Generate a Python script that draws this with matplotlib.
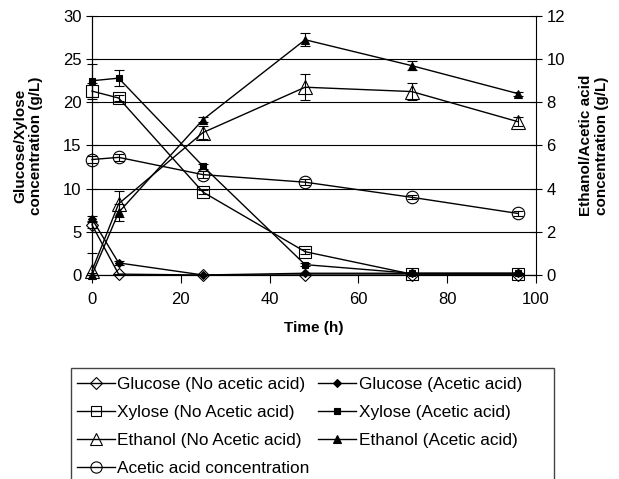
import matplotlib
matplotlib.use('Agg')
import matplotlib.pyplot as plt
from matplotlib.lines import Line2D
from matplotlib.patches import Rectangle
import numpy as np

plt.rcParams['font.family'] = ['Liberation Sans', 'DejaVu Sans']
plt.rcParams['font.size'] = 10

# sampling times (h)
time = [0, 6, 25, 48, 72, 96]

# left axis (g/L)
glucose_no = [5.8, 0.1, 0.0, 0.0, 0.0, 0.0]
glucose_no_err = [0.3, 0.0, 0.0, 0.0, 0.0, 0.0]
glucose_aa = [6.5, 1.4, 0.0, 0.2, 0.2, 0.2]
glucose_aa_err = [0.3, 0.2, 0.0, 0.0, 0.0, 0.0]
xylose_no = [21.3, 20.5, 9.6, 2.7, 0.1, 0.1]
xylose_no_err = [0.9, 0.3, 0.2, 0.3, 0.0, 0.0]
xylose_aa = [22.5, 22.8, 12.6, 1.2, 0.2, 0.2]
xylose_aa_err = [1.9, 0.9, 0.3, 0.2, 0.0, 0.0]

# right axis (g/L)
ethanol_no = [0.2, 3.3, 6.6, 8.7, 8.5, 7.1]
ethanol_no_err = [0.8, 0.6, 0.3, 0.6, 0.4, 0.2]
ethanol_aa = [0.0, 2.9, 7.2, 10.9, 9.7, 8.4]
ethanol_aa_err = [0.1, 0.4, 0.1, 0.3, 0.2, 0.1]
acetic = [5.35, 5.45, 4.65, 4.3, 3.6, 2.85]
acetic_err = [0.15, 0.15, 0.15, 0.15, 0.1, 0.1]

fig = plt.figure(figsize=(6.19, 4.79), dpi=100)
ax1 = fig.add_axes([0.1486, 0.4259, 0.7173, 0.5407])
ax2 = ax1.twinx()

handles = []
def series(ax, y, err, marker, ms, filled, label):
    mfc = 'black' if filled else 'none'
    style = dict(color='black', lw=1.0, marker=marker, ms=ms, mfc=mfc,
                 mec='black', mew=0.8)
    # concentrations can't go below zero, so cut the lower bar there
    lower = np.minimum(err, y)
    ax.errorbar(time, y, yerr=[lower, err], capsize=3.5, elinewidth=0.8,
                capthick=0.8, clip_on=False, **style)
    handles.append(Line2D([], [], label=label, **style))

series(ax1, glucose_no, glucose_no_err, 'D', 6.5, False, 'Glucose (No acetic acid)')
series(ax1, xylose_no, xylose_no_err, 's', 8.5, False, 'Xylose (No Acetic acid)')
series(ax2, ethanol_no, ethanol_no_err, '^', 9.5, False, 'Ethanol (No Acetic acid)')
series(ax2, acetic, acetic_err, 'o', 9, False, 'Acetic acid concentration')
series(ax1, glucose_aa, glucose_aa_err, 'D', 4.5, True, 'Glucose (Acetic acid)')
series(ax1, xylose_aa, xylose_aa_err, 's', 5, True, 'Xylose (Acetic acid)')
series(ax2, ethanol_aa, ethanol_aa_err, '^', 6, True, 'Ethanol (Acetic acid)')

ax1.set_xlim(0, 100)
ax1.set_ylim(0, 30)
ax2.set_ylim(0, 12)
ax1.set_xticks([0, 20, 40, 60, 80, 100])
ax1.set_yticks(np.arange(0, 31, 5))
ax2.set_yticks(np.arange(0, 13, 2))
ax1.yaxis.grid(True, color='black', lw=0.8)
ax1.set_axisbelow(True)

for ax in (ax1, ax2):
    ax.spines['top'].set_visible(False)
    for s in ax.spines.values():
        s.set_linewidth(0.8)
ax1.spines['right'].set_visible(False)
ax1.tick_params(axis='y', direction='inout', length=8, width=0.8, labelsize=12)
ax1.tick_params(axis='x', direction='out', length=6, width=0.8, labelsize=12, pad=6)
ax2.tick_params(axis='y', direction='inout', length=8, width=0.8, labelsize=12)

ax1.set_xlabel('Time (h)', fontweight='bold', fontsize=11, labelpad=10)
ax1.set_ylabel('Glucose/Xylose\nconcentration (g/L)', fontweight='bold', fontsize=11, labelpad=14)
ax2.set_ylabel('Ethanol/Acetic acid\nconcentration (g/L)', fontweight='bold', fontsize=11, labelpad=10)

# legend box runs off the bottom edge of the figure
fig.patches.append(Rectangle((71 / 619, -0.1), 483 / 619, 0.1 + (1 - 368 / 479),
                             transform=fig.transFigure, fill=False,
                             edgecolor='#444444', lw=1.0))
fig.legend(handles=handles, ncol=2, loc='upper left',
           bbox_to_anchor=(77 / 619, 1 - 377 / 479), borderaxespad=0, borderpad=0,
           fontsize=12.4, frameon=False, markerscale=0.9,
           handlelength=2.2, handletextpad=0.15, columnspacing=0.5,
           labelspacing=0.76)

fig.savefig('out.png', dpi=100)
